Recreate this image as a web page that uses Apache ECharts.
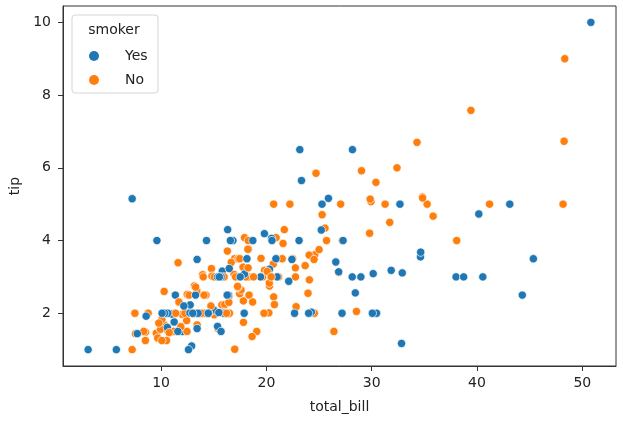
<!DOCTYPE html>
<html>
<head>
<meta charset="utf-8">
<script src="https://cdn.jsdelivr.net/npm/echarts@6/dist/echarts.min.js"></script>
<style>
html, body { margin: 0; padding: 0; background: #fff; }
#chart { width: 623px; height: 425px; }
</style>
</head>
<body>
<div id="chart"></div>
<script>
const totalBill = [16.99,10.34,21.01,23.68,24.59,25.29,8.77,26.88,15.04,14.78,
10.27,35.26,15.42,18.43,14.83,21.58,10.33,16.29,16.97,20.65,
17.92,20.29,15.77,39.42,19.82,17.81,13.37,12.69,21.70,19.65,
9.55,18.35,15.06,20.69,17.78,24.06,16.31,16.93,18.69,31.27,
16.04,17.46,13.94,9.68,30.40,18.29,22.23,32.40,28.55,18.04,
12.54,10.29,34.81,9.94,25.56,19.49,38.01,26.41,11.24,48.27,
20.29,13.81,11.02,18.29,17.59,20.08,16.45,3.07,20.23,15.01,
12.02,17.07,26.86,25.28,14.73,10.51,17.92,27.20,22.76,17.29,
19.44,16.66,10.07,32.68,15.98,34.83,13.03,18.28,24.71,21.16,
28.97,22.49,5.75,16.32,22.75,40.17,27.28,12.03,21.01,12.46,
11.35,15.38,44.30,22.42,20.92,15.36,20.49,25.21,18.24,14.31,
14.00,7.25,38.07,23.95,25.71,17.31,29.93,10.65,12.43,24.08,
11.69,13.42,14.26,15.95,12.48,29.80,8.52,14.52,11.38,22.82,
19.08,20.27,11.17,12.26,18.26,8.51,10.33,14.15,16.00,13.16,
17.47,34.30,41.19,27.05,16.43,8.35,18.64,11.87,9.78,7.51,
14.07,13.13,17.26,24.55,19.77,29.85,48.17,25.00,13.39,16.49,
21.50,12.66,16.21,13.81,17.51,24.52,20.76,31.71,10.59,10.63,
50.81,15.81,7.25,31.85,16.82,32.90,17.89,14.48,9.60,34.63,
34.65,23.33,45.35,23.17,40.55,20.69,20.90,30.46,18.15,23.10,
15.69,19.81,28.44,15.48,16.58,7.56,10.34,43.11,13.00,13.51,
18.71,12.74,13.00,16.40,20.53,16.47,26.59,38.73,24.27,12.76,
30.06,25.89,48.33,13.27,28.17,12.90,28.15,11.59,7.74,30.14,
12.16,13.42,8.58,15.98,13.42,16.27,10.09,20.45,13.28,22.12,
24.01,15.69,11.61,10.77,15.53,10.07,12.60,32.83,35.83,29.03,
27.18,22.67,17.82,18.78];

const tip = [1.01,1.66,3.50,3.31,3.61,4.71,2.00,3.12,1.96,3.23,
1.71,5.00,1.57,3.00,3.02,3.92,1.67,3.71,3.50,3.35,
4.08,2.75,2.23,7.58,3.18,2.34,2.00,2.00,4.30,3.00,
1.45,2.50,3.00,2.45,3.27,3.60,2.00,3.07,2.31,5.00,
2.24,2.54,3.06,1.32,5.60,3.00,5.00,6.00,2.05,3.00,
2.50,2.60,5.20,1.56,4.34,3.51,3.00,1.50,1.76,6.73,
3.21,2.00,1.98,3.76,2.64,3.15,2.47,1.00,2.01,2.09,
1.97,3.00,3.14,5.00,2.20,1.25,3.08,4.00,3.00,2.71,
3.00,3.40,1.83,5.00,2.03,5.17,2.00,4.00,5.85,3.00,
3.00,3.50,1.00,4.30,3.25,4.73,4.00,1.50,3.00,1.50,
2.50,3.00,2.50,3.48,4.08,1.64,4.06,4.29,3.76,4.00,
3.00,1.00,4.00,2.55,4.00,3.50,5.07,1.50,1.80,2.92,
2.31,1.68,2.50,2.00,2.52,4.20,1.48,2.00,2.00,2.18,
1.50,2.83,1.50,2.00,3.25,1.25,2.00,2.00,2.00,2.75,
3.50,6.70,5.00,5.00,2.30,1.50,1.36,1.63,1.73,2.00,
2.50,2.00,2.74,2.00,2.00,5.14,5.00,3.75,2.61,2.00,
3.50,2.50,2.00,2.00,3.00,3.48,2.24,4.50,1.61,2.00,
10.00,3.16,5.15,3.18,4.00,3.11,2.00,2.00,4.00,3.55,
3.68,5.65,3.50,6.50,3.00,5.00,3.50,2.00,3.50,4.00,
1.50,4.19,2.56,2.02,4.00,1.44,2.00,5.00,2.00,2.00,
4.00,2.01,2.00,2.50,4.00,3.23,3.41,3.00,2.03,2.23,
2.00,5.16,9.00,2.50,6.50,1.10,3.00,1.50,1.44,3.09,
2.20,3.48,1.92,3.00,1.58,2.50,2.00,3.00,2.72,2.88,
2.00,3.00,3.39,1.47,3.00,1.25,1.00,1.17,4.67,5.92,
2.00,2.00,1.75,3.00];

const smoker = ['No','No','No','No','No','No','No','No','No','No',
'No','No','No','No','No','No','No','No','No','No',
'No','No','No','No','No','No','No','No','No','No',
'No','No','No','No','No','No','No','No','No','No',
'No','No','No','No','No','No','No','No','No','No',
'No','No','No','No','No','No','Yes','No','Yes','No',
'Yes','Yes','Yes','Yes','No','No','No','Yes','No','Yes',
'No','No','Yes','Yes','No','No','Yes','No','No','No',
'Yes','No','No','Yes','No','No','No','No','No','No',
'Yes','No','Yes','Yes','No','Yes','Yes','Yes','Yes','No',
'Yes','Yes','Yes','Yes','No','Yes','Yes','Yes','No','Yes',
'No','No','No','No','No','No','No','No','No','No',
'No','No','No','No','No','No','No','No','No','No',
'No','No','No','No','No','No','No','No','Yes','No',
'No','No','No','No','No','No','No','No','No','No',
'No','No','No','No','No','No','No','No','No','No',
'No','No','No','No','Yes','No','No','No','Yes','Yes',
'Yes','Yes','Yes','Yes','Yes','Yes','Yes','Yes','Yes','Yes',
'Yes','Yes','Yes','Yes','Yes','No','Yes','Yes','Yes','Yes',
'Yes','Yes','Yes','Yes','Yes','No','Yes','Yes','Yes','Yes',
'Yes','Yes','Yes','Yes','Yes','Yes','Yes','Yes','Yes','Yes',
'Yes','Yes','No','Yes','Yes','Yes','Yes','Yes','Yes','Yes',
'Yes','Yes','Yes','No','Yes','Yes','Yes','No','No','Yes',
'Yes','Yes','No','No','Yes','No','Yes','Yes','No','No',
'Yes','Yes','No','No'];

const hueLevels = ['Yes', 'No'];
const hueColors = ['#1f77b4', '#ff7f0e'];
const xTicks = [10, 20, 30, 40, 50];
const yTicks = [2, 4, 6, 8, 10];

const FONT = '"DejaVu Sans", sans-serif';
const TEXT = '#222';
const SPINE = '#333';

// matplotlib-style 5% margins
const xMinD = Math.min(...totalBill), xMaxD = Math.max(...totalBill);
const yMinD = Math.min(...tip), yMaxD = Math.max(...tip);
const xPad = (xMaxD - xMinD) * 0.05, yPad = (yMaxD - yMinD) * 0.05;

const points = totalBill.map((x, i) => [x, tip[i], hueLevels.indexOf(smoker[i])]);

const chart = echarts.init(document.getElementById('chart'), null, { renderer: 'canvas' });
chart.setOption({
  animation: false,
  backgroundColor: '#fff',
  grid: { left: 63, right: 7, top: 6, bottom: 59, show: true, borderColor: SPINE, borderWidth: 1, backgroundColor: 'transparent' },
  xAxis: {
    type: 'value', min: xMinD - xPad, max: xMaxD + xPad,
    axisLine: { show: true, lineStyle: { color: SPINE, width: 1 } },
    axisTick: { show: true, length: 5, customValues: xTicks, lineStyle: { color: SPINE, width: 1 } },
    axisLabel: { customValues: xTicks, fontSize: 14, fontFamily: FONT, color: TEXT, margin: 10 },
    splitLine: { show: false },
    name: 'total_bill', nameLocation: 'middle', nameGap: 34,
    nameTextStyle: { fontSize: 14, fontFamily: FONT, color: TEXT }
  },
  yAxis: {
    type: 'value', min: yMinD - yPad, max: yMaxD + yPad,
    axisLine: { show: true, lineStyle: { color: SPINE, width: 1 } },
    axisTick: { show: true, length: 5, customValues: yTicks, lineStyle: { color: SPINE, width: 1 } },
    axisLabel: { customValues: yTicks, fontSize: 14, fontFamily: FONT, color: TEXT, margin: 12 },
    splitLine: { show: false },
    name: 'tip', nameLocation: 'middle', nameGap: 41,
    nameTextStyle: { fontSize: 14, fontFamily: FONT, color: TEXT }
  },
  legend: {
    data: hueLevels, orient: 'vertical', left: 89, top: 49, padding: 0,
    icon: 'circle', itemWidth: 10, itemHeight: 10, itemGap: 10,
    textStyle: { fontSize: 14, fontFamily: FONT, color: TEXT, lineHeight: 14, padding: [0, 0, 0, 21] },
    selectedMode: false, z: 4
  },
  graphic: [
    { type: 'rect', z: 3, shape: { x: 72, y: 15, width: 86, height: 78, r: 3 },
      style: { fill: 'rgba(255,255,255,0.8)', stroke: '#d5d5d5', lineWidth: 1 } },
    { type: 'text', z: 5, x: 114, y: 30,
      style: { text: 'smoker', font: '14px ' + FONT, fill: TEXT, align: 'center', verticalAlign: 'middle' } }
  ],
  series: [
    {
      type: 'scatter', data: points, symbolSize: 8.3, z: 2,
      itemStyle: { color: p => hueColors[p.data[2]], borderColor: '#fff', borderWidth: 0.7, opacity: 1 },
      emphasis: { disabled: true }
    },
    { name: hueLevels[0], type: 'scatter', data: [], itemStyle: { color: hueColors[0], opacity: 1 } },
    { name: hueLevels[1], type: 'scatter', data: [], itemStyle: { color: hueColors[1], opacity: 1 } }
  ]
});
</script>
</body>
</html>
